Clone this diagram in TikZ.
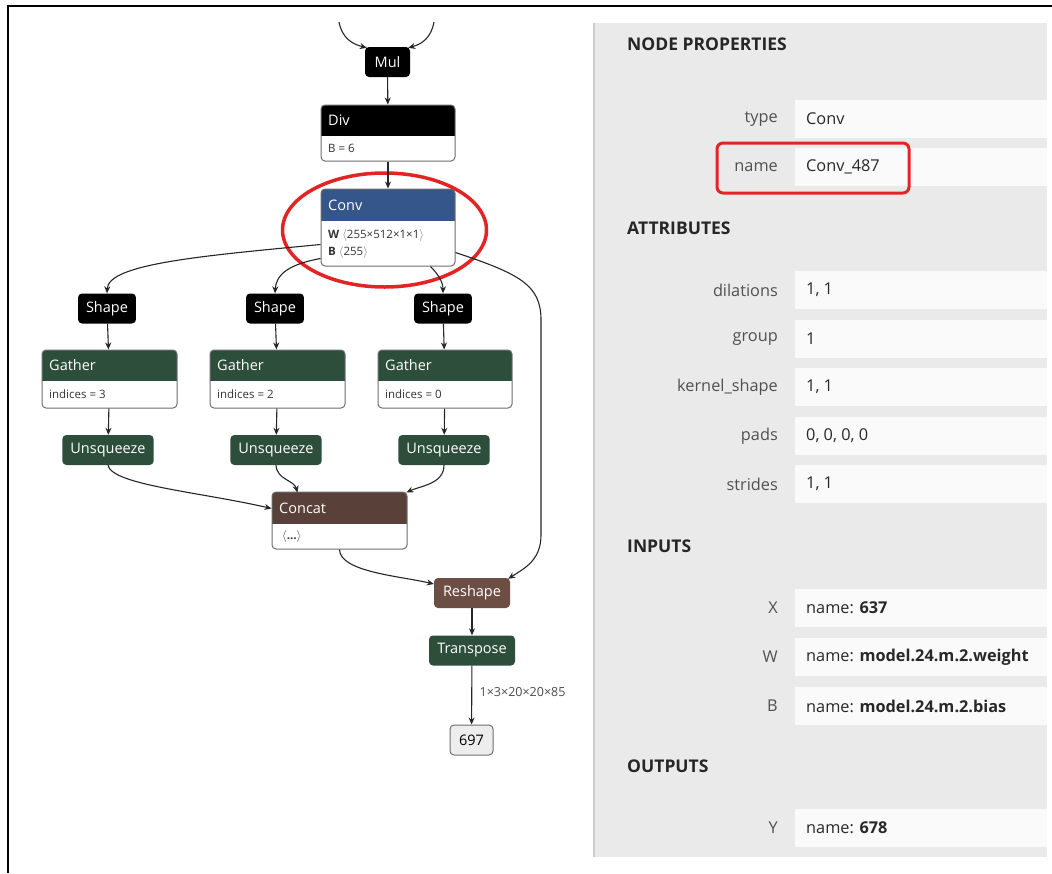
\documentclass[tikz,border=0pt]{standalone}
\usepackage{fontspec}
\setmainfont{Open Sans}
\usetikzlibrary{arrows.meta,calc}
\definecolor{convblue}{RGB}{52,86,138}
\definecolor{opgreen}{RGB}{46,78,60}
\definecolor{catbrown}{RGB}{89,64,56}
\definecolor{resbrown}{RGB}{108,78,68}
\definecolor{boxline}{RGB}{110,110,110}
\definecolor{panelgray}{RGB}{234,234,234}
\definecolor{rowwhite}{RGB}{250,250,250}
\definecolor{markred}{RGB}{226,36,36}
\definecolor{lblgray}{RGB}{80,80,80}
\definecolor{valdark}{RGB}{40,40,40}
\newcommand\netbox[9]{%
  \begin{scope}
    \clip[rounded corners=4] (#2,#3) rectangle (#4,#6);
    \fill[#7] (#2,#3) rectangle (#4,#5);
    \fill[white] (#2,#5) rectangle (#4,#6);
  \end{scope}
  \node[draw=boxline, rounded corners=4, line width=1, inner sep=0,
        minimum width={#4-#2}, minimum height={#6-#3}] (#1) at ({(#2+#4)/2},{(#3+#6)/2}) {};
  \node[hdr, anchor=west] at (#2+7,{(#3+#5)/2}) {#8};
  \node[bdy, anchor=west] at (#2+7,{(#5+#6)/2}) {#9};
}
\newcommand\proprow[4]{% #1 name, #2 y, #3 label, #4 value
  \fill[rowwhite] (795,#2-19) rectangle (1047,#2+19);
  \node[plabel, anchor=east] (#1l) at (778,#2) {#3};
  \node[pvalue, anchor=west] (#1v) at (806,#2) {#4};
}
\tikzset{
  hdr/.style={text=white, font=\fontsize{14.5}{16}\selectfont, inner sep=0},
  bdy/.style={text=black!80, font=\fontsize{11.5}{18}\selectfont, inner sep=0, align=left},
  blk/.style={fill=black, text=white, rounded corners=4, minimum height=30, inner xsep=8,
              font=\fontsize{14.5}{16}\selectfont},
  grn/.style={blk, fill=opgreen},
  brn/.style={blk, fill=resbrown},
  outbox/.style={draw=boxline, fill=black!7, rounded corners=4, minimum height=30,
                 minimum width=43, line width=1, font=\fontsize{14.5}{16}\selectfont},
  edge/.style={draw=black!85, line width=1.1, -{Stealth[length=7,width=6]}},
  plabel/.style={text=lblgray, font=\fontsize{16.3}{18}\selectfont, inner sep=0},
  pvalue/.style={text=valdark, font=\fontsize{16.3}{18}\selectfont, inner sep=0},
  phead/.style={text=black!85, font=\bfseries\fontsize{17.5}{20}\selectfont, inner sep=0, anchor=west},
}
\begin{document}
\begin{tikzpicture}[x=1pt,y=-1pt]
\useasboundingbox (0,0) rectangle (1052,873);
\fill[white] (0,0) rectangle (1052,873);
% frame
\draw[line width=2] (8,873) -- (8,6) -- (1052,6);
% right panel
\fill[panelgray] (593,23) rectangle (1047,857);
\draw[black!20, line width=1.5] (594,23) -- (594,857);
\node[phead] (hprops) at (627,44) {NODE PROPERTIES};
\proprow{type}{119}{type}{Conv}
\proprow{name}{167}{name}{Conv\_487}
\draw[markred, line width=3, rounded corners=6] (717,143) rectangle (909,193);
\node[phead] (hattr) at (627,228) {ATTRIBUTES};
\proprow{dil}{290}{dilations}{1, 1}
\proprow{grp}{339}{group}{1}
\proprow{ks}{387}{kernel\_shape}{1, 1}
\proprow{pads}{436}{pads}{0, 0, 0, 0}
\proprow{str}{484}{strides}{1, 1}
\node[phead] (hin) at (627,546) {INPUTS};
\proprow{inx}{608}{X}{name: \textbf{637}}
\proprow{inw}{657}{W}{name: \textbf{model.24.m.2.weight}}
\proprow{inb}{706}{B}{name: \textbf{model.24.m.2.bias}}
\node[phead] (hout) at (627,766) {OUTPUTS};
\proprow{outy}{828}{Y}{name: \textbf{678}}

% graph nodes
\node[blk, minimum width=45] (mul) at (387.5,62) {Mul};
\coordinate (inl) at (339,22);
\coordinate (inr) at (434,22);
\netbox{div}{321}{105}{455}{136}{161}{black}{Div}{B = 6}
\netbox{conv}{321}{189}{455}{221}{266}{convblue}{Conv}{\textbf{W} \textcolor{black!55}{\ensuremath{\langle}}255×512×1×1\textcolor{black!55}{\ensuremath{\rangle}}\\[-1pt]\textbf{B} \textcolor{black!55}{\ensuremath{\langle}}255\textcolor{black!55}{\ensuremath{\rangle}}}
\node[blk, minimum width=56] (sh1) at (107,308.5) {Shape};
\node[blk, minimum width=56] (sh2) at (275,308.5) {Shape};
\node[blk, minimum width=56] (sh3) at (443,308.5) {Shape};
\netbox{g1}{42}{350}{177}{381}{408}{opgreen}{Gather}{indices = 3}
\netbox{g2}{210}{350}{345}{381}{408}{opgreen}{Gather}{indices = 2}
\netbox{g3}{378}{350}{512}{381}{408}{opgreen}{Gather}{indices = 0}
\node[grn, minimum width=90] (u1) at (108,450) {Unsqueeze};
\node[grn, minimum width=90] (u2) at (276,450) {Unsqueeze};
\node[grn, minimum width=90] (u3) at (444,450) {Unsqueeze};
\netbox{cat}{272}{492}{407}{524}{549}{catbrown}{Concat}{\ \textbf{\ensuremath{\langle}...\ensuremath{\rangle}}}
\node[brn, minimum width=76] (resh) at (472,593) {Reshape};
\node[grn, minimum width=86] (tr) at (472,650.5) {Transpose};
\node[outbox] (out) at (471.5,740) {697};

% red ellipse
\draw[markred, line width=3.5] (384.5,230) ellipse [x radius=102, y radius=57];

% edges
\draw[edge] (inl) .. controls (342,38) and (352,44) .. ($(mul.north west)+(2,1)$);
\draw[edge] (inr) .. controls (431,38) and (422,44) .. ($(mul.north east)+(-2,1)$);
\draw[edge] (mul) -- (div);
\draw[edge] (div) -- (conv);
\draw[edge] ($(conv.south west)+(0,-22)$) .. controls (200,256) and (108,264) .. (sh1.north);
\draw[edge] ($(conv.south west)+(0,-8)$) .. controls (290,264) and (276,274) .. (sh2.north);
\draw[edge] ($(conv.south east)+(-25,0)$) .. controls (438,274) and (443,282) .. (sh3.north);
\draw[edge] ($(conv.south east)+(0,-14)$) .. controls (520,274) and (541,285) .. (541,320)
            -- (541,535) .. controls (541,560) and (525,568) .. ($(resh.north east)+(-2,1)$);
\draw[edge] (sh1) -- (g1);
\draw[edge] (sh2) -- (g2);
\draw[edge] (sh3) -- (g3);
\draw[edge] (g1) -- (u1);
\draw[edge] (g2) -- (u2);
\draw[edge] (g3) -- (u3);
\draw[edge] (u1.south) .. controls (112,485) and (200,492) .. ($(cat.north west)+(0,17)$);
\draw[edge] (u2.south) .. controls (277,480) and (294,480) .. ($(cat.north west)+(26,1)$);
\draw[edge] (u3.south) .. controls (444,484) and (420,486) .. ($(cat.north east)+(-1,1)$);
\draw[edge] (cat.south) .. controls (340,572) and (400,576) .. ($(resh.west)+(0,-9)$);
\draw[edge] (resh) -- (tr);
\draw[edge] (tr) -- node[right, xshift=4, pos=0.45, text=black!70, font=\fontsize{12.5}{14}\selectfont] (shape) {1×3×20×20×85} (out);
\end{tikzpicture}
\end{document}
